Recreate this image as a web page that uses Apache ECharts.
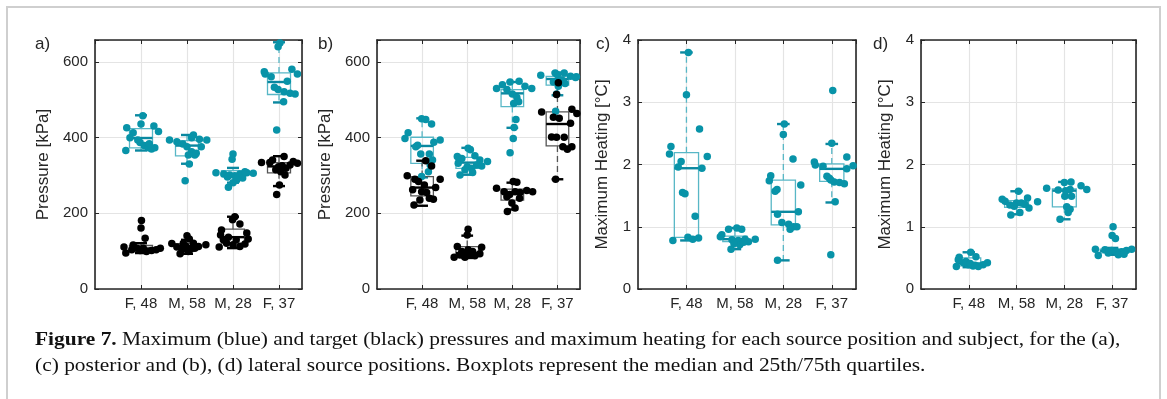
<!DOCTYPE html>
<html><head><meta charset="utf-8">
<script src="https://cdn.jsdelivr.net/npm/echarts@6/dist/echarts.min.js"></script>
<style>html,body{margin:0;padding:0;background:#fff}#c{width:1167px;height:399px}</style>
</head><body><div id="c"></div>
<script>
// ---------- DATA ----------
const categories = ['F, 48', 'M, 58', 'M, 28', 'F, 37'];
const pressureTicks = [0, 200, 400, 600];
const heatingTicks = [0, 1, 2, 3, 4];

// Panel a (posterior) - maximum pressure (blue)
const aMaxVals = [
  [458,436,426,431,413,416,366,394,387,379,373,370,373,384,400],
  [394,383,407,396,394,376,376,363,354,354,330,286,389,400,359],
  [357,343,307,304,301,304,307,306,293,288,281,269,299,310,296],
  [650,640,574,568,561,581,568,549,533,527,521,517,515,495,420]
];
const aMaxJitter = [
  [0.04,0,-0.31,0.28,-0.17,0.38,-0.33,-0.07,-0.02,0.07,0.16,0.23,0.3,0.18,-0.24],
  [-0.38,-0.09,0.14,0.27,0.43,0.31,0,0.1,0.17,0.03,0.05,-0.04,-0.22,0.1,0.2],
  [0,-0.02,-0.37,-0.2,-0.07,0.15,0.3,0.44,0.21,0.08,0,-0.1,0.04,0.26,-0.12],
  [0.02,-0.02,-0.32,-0.3,-0.17,0.28,0.4,0.18,-0.1,-0.02,0.11,0.24,0.35,0.1,-0.05]
];
const aMaxBox = [[366,373,399,424,459],[331,352,379,392,407],[281,297,303,313,320],[493,514,547,571,652]];
// Panel a - target pressure (black)
const aTgtVals = [
  [181,161,134,111,95,104,108,102,99,102,104,108,108,116],
  [120,111,104,93,141,132,112,105,108,112,117,121,121,99],
  [191,183,172,156,143,137,148,132,130,121,117,112,119,111,130],
  [334,341,350,337,332,323,319,328,315,310,301,275,250,334,326]
];
const aTgtJitter = [
  [0.01,0,0.09,-0.37,-0.33,-0.2,-0.09,-0.02,0.12,0.23,0.33,0.42,0.05,-0.17],
  [-0.33,-0.22,-0.11,-0.15,0,0.05,-0.02,0.08,0.17,0.25,0.41,0.14,-0.08,0.03],
  [0.04,-0.01,0.15,-0.25,-0.27,-0.1,0.3,0.33,-0.21,-0.14,0,0.15,0.26,-0.3,0.07],
  [-0.38,-0.14,0.11,0.31,0.4,-0.01,0.15,0.24,-0.07,0.04,0.13,0.01,-0.05,-0.2,0.07]
];
const aTgtBox = [[95,101,107,115,121],[93,107,113,120,130],[108,121,137,158,191],[272,307,324,334,351]];

// Panel b (lateral) - maximum pressure (blue)
const bMaxVals = [
  [450,448,436,413,398,380,376,394,357,357,341,328,310,297,388],
  [372,368,350,352,341,332,323,328,325,319,301,337,315,345,308],
  [530,547,549,536,530,527,515,506,495,490,448,427,398,360,540],
  [565,571,571,562,561,552,547,536,515,470,559,543,566]
];
const bMaxJitter = [
  [-0.01,0.08,0.21,-0.31,-0.38,-0.1,-0.14,0.4,-0.03,0.16,0.23,0.18,0.14,-0.01,0.26],
  [0.02,0.07,-0.22,0.17,0.28,-0.2,0,0.21,0.32,0.1,-0.16,0.45,-0.05,-0.12,0.12],
  [-0.35,-0.05,0.15,0.28,0.43,-0.12,0,0.1,0.14,0.03,0.08,0.04,0.02,-0.05,-0.22],
  [-0.37,-0.05,0.15,0.29,0.42,0.1,-0.09,0.02,-0.02,-0.04,0.4,0.17,0]
];
const bMaxBox = [[295,332,378,401,451],[302,319,334,348,373],[426,482,517,527,547],[512,539,555,562,572]];
// Panel b - target pressure (black)
const bTgtVals = [
  [339,325,299,290,284,290,268,262,257,255,240,237,235,222,275],
  [158,143,112,110,84,99,93,90,88,93,104,99,90,84],
  [284,282,266,257,257,255,260,257,244,240,214,205,227,250],
  [545,514,468,451,475,464,454,438,402,401,401,376,369,376,290]
];
const bTgtJitter = [
  [0.08,0.21,-0.33,-0.16,-0.08,0.4,0.3,-0.21,-0.01,0.1,0.16,0.25,-0.05,-0.18,0.05],
  [0.02,0,-0.22,0.32,-0.29,-0.12,-0.03,0.09,0.17,0.28,0.02,0.12,-0.16,-0.05],
  [0.02,0.1,-0.35,-0.18,0.06,0.17,0.32,0.45,-0.12,0.16,0.06,-0.11,-0.01,-0.06],
  [0.02,-0.02,-0.35,0.04,0.32,0.43,-0.09,0.29,-0.13,-0.02,0.15,0.12,0.22,0.32,-0.04]
];
const bTgtBox = [[220,246,268,297,339],[82,86,95,112,141],[210,235,255,264,281],[290,378,436,468,545]];

// Panel c (posterior) - maximum heating
const cVals = [
  [3.80,3.12,2.57,2.29,2.17,2.13,2.05,1.96,1.94,1.55,1.53,1.17,0.78,0.83,0.80,0.82],
  [0.87,0.84,0.96,0.98,0.96,0.79,0.78,0.80,0.76,0.80,0.64,0.71,0.75,0.73],
  [2.65,2.48,2.09,1.82,1.74,1.67,1.60,1.57,1.24,1.20,1.07,1.04,1.00,1.00,0.96,0.46],
  [3.19,2.34,2.04,1.99,1.97,2.12,1.93,1.98,1.81,1.75,1.72,1.71,1.69,1.40,0.55,1.78]
];
const cJitter = [
  [0.04,0,0.27,-0.32,-0.35,0.43,-0.11,-0.17,0.32,-0.08,-0.03,0.18,-0.28,0.03,0.13,0.25],
  [-0.27,-0.3,-0.13,0.04,0.14,-0.06,0.07,0.21,0.28,0.42,-0.08,0.1,0.18,-0.02],
  [0.02,0,0.2,-0.26,-0.29,0.36,-0.13,-0.17,0.31,-0.12,-0.03,0.11,0.21,0.28,0.14,-0.12],
  [0.02,0,-0.36,-0.34,-0.18,0.31,0.31,0.44,-0.1,-0.02,0.05,0.16,0.26,0.07,-0.02,-0.05]
];
const cBox = [[0.78,0.83,1.94,2.19,3.80],[0.64,0.76,0.80,0.85,0.98],[0.46,1.03,1.24,1.75,2.65],[1.39,1.73,1.93,2.01,2.33]];

// Panel d (lateral) - maximum heating
const dVals = [
  [0.59,0.51,0.52,0.36,0.42,0.39,0.37,0.36,0.39,0.42,0.44,0.47,0.41,0.38],
  [1.57,1.44,1.41,1.46,1.40,1.35,1.38,1.38,1.30,1.23,1.19,1.33,1.36],
  [1.62,1.71,1.72,1.66,1.60,1.59,1.60,1.49,1.49,1.32,1.28,1.23,1.12,1.58],
  [1.00,0.86,0.81,0.64,0.54,0.63,0.62,0.60,0.60,0.62,0.64,0.55,0.56,0.58]
];
const dJitter = [
  [0.04,-0.2,0.15,-0.26,-0.11,-0.01,0.09,0.2,0.3,0.39,-0.06,-0.22,0.03,0.13],
  [0.04,-0.3,-0.24,0.23,0.44,-0.14,0,0.1,0.26,0.07,-0.12,-0.05,0.17],
  [-0.37,0,0.14,0.35,0.47,-0.13,0.12,0.01,0.15,0.05,0.12,0.08,-0.09,0.03],
  [0.02,0,0.07,-0.35,-0.29,-0.15,-0.01,0.09,0.2,0.3,0.41,0.13,0.25,-0.08]
];
const dBox = [[0.35,0.37,0.41,0.50,0.59],[1.20,1.31,1.37,1.42,1.57],[1.12,1.32,1.58,1.61,1.72],[0.55,0.58,0.61,0.64,0.66]];

// ---------- STYLE ----------
const TEAL = '#0893a8', TEAL_LIGHT = '#58b7c6', TEAL_DARK = '#0a88a0';
const BLACK = '#000000', GREY_BOX = '#555555';
const AXIS_COL = '#262626', GRID_COL = '#e4e4e4';
const SANS = '"Liberation Sans", Arial, sans-serif';
const SERIF = '"Liberation Serif", "Times New Roman", serif';

const grids = [
  {left: 95,  top: 40, width: 207, height: 249},
  {left: 377, top: 40, width: 203, height: 249},
  {left: 638, top: 40, width: 218, height: 249},
  {left: 921, top: 40, width: 215, height: 249}
];
const yMax = [658, 658, 4, 4];
const yInt = [200, 200, 1, 1];
const yTickSets = [pressureTicks, pressureTicks, heatingTicks, heatingTicks];
const yNames = ['Pressure [kPa]', 'Pressure [kPa]', 'Maximum Heating [°C]', 'Maximum Heating [°C]'];
const yNameGaps = [43, 43, 27, 27];

const xAxes = [], yAxes = [];
grids.forEach((g, i) => {
  xAxes.push({
    gridIndex: i, type: 'value', min: 0, max: 4.5, interval: 1, position: 'bottom',
    axisLine: {show: true, onZero: false, lineStyle: {color: AXIS_COL, width: 1.6}},
    axisTick: {show: true, inside: true, length: 4, lineStyle: {color: AXIS_COL, width: 1}},
    axisLabel: {
      color: AXIS_COL, fontSize: 15, fontFamily: SANS, margin: 7,
      showMinLabel: false, showMaxLabel: false,
      formatter: v => (Number.isInteger(v) && v >= 1 && v <= 4) ? categories[v - 1] : ''
    },
    splitLine: {show: true, lineStyle: {color: GRID_COL, width: 1.2}}
  });
  xAxes.push({
    gridIndex: i, type: 'value', min: 0, max: 4.5, interval: 1, position: 'top',
    axisLine: {show: true, onZero: false, lineStyle: {color: AXIS_COL, width: 1.6}},
    axisTick: {show: true, inside: true, length: 4, lineStyle: {color: AXIS_COL, width: 1}},
    axisLabel: {show: false}, splitLine: {show: false}
  });
  const ticks = yTickSets[i];
  yAxes.push({
    gridIndex: i, type: 'value', min: 0, max: yMax[i], interval: yInt[i], position: 'left',
    name: yNames[i], nameLocation: 'middle', nameGap: yNameGaps[i],
    nameTextStyle: {color: AXIS_COL, fontSize: 17, fontFamily: SANS},
    axisLine: {show: true, onZero: false, lineStyle: {color: AXIS_COL, width: 1.6}},
    axisTick: {show: true, inside: true, length: 4, lineStyle: {color: AXIS_COL, width: 1}},
    axisLabel: {
      color: AXIS_COL, fontSize: 15, fontFamily: SANS, margin: 7,
      formatter: v => ticks.indexOf(v) >= 0 ? String(v) : ''
    },
    splitLine: {show: true, lineStyle: {color: GRID_COL, width: 1.2}}
  });
  yAxes.push({
    gridIndex: i, type: 'value', min: 0, max: yMax[i], interval: yInt[i], position: 'right',
    axisLine: {show: true, onZero: false, lineStyle: {color: AXIS_COL, width: 1.6}},
    axisTick: {show: true, inside: true, length: 4, lineStyle: {color: AXIS_COL, width: 1}},
    axisLabel: {show: false}, splitLine: {show: false}
  });
});

function boxSeries(panel, boxes, edgeCol, medCol, whiskerDash) {
  const data = boxes.map((b, k) => [k + 1].concat(b));
  return {
    type: 'custom', xAxisIndex: panel * 2, yAxisIndex: panel * 2,
    encode: {x: 0, y: [1, 2, 3, 4, 5]}, z: 2, silent: true,
    data: data,
    renderItem: function (params, api) {
      const x = api.value(0);
      const lw = api.value(1), q1 = api.value(2), md = api.value(3), q3 = api.value(4), uw = api.value(5);
      const pTL = api.coord([x - 0.25, q3]), pBR = api.coord([x + 0.25, q1]);
      const pMedL = api.coord([x - 0.25, md]), pMedR = api.coord([x + 0.25, md]);
      const pc = api.coord([x, 0]);
      const yUw = api.coord([x, uw])[1], yLw = api.coord([x, lw])[1];
      const capL = api.coord([x - 0.13, uw])[0], capR = api.coord([x + 0.13, uw])[0];
      const line = (x1, y1, x2, y2, col, w, dash) => ({
        type: 'line', shape: {x1, y1, x2, y2},
        style: {stroke: col, lineWidth: w, lineDash: dash || null, fill: null}
      });
      return {
        type: 'group', children: [
          line(pc[0], pTL[1], pc[0], yUw, edgeCol, 1.3, whiskerDash),
          line(pc[0], pBR[1], pc[0], yLw, edgeCol, 1.3, whiskerDash),
          {type: 'rect', shape: {x: pTL[0], y: pTL[1], width: pBR[0] - pTL[0], height: pBR[1] - pTL[1]},
           style: {stroke: edgeCol, lineWidth: 1.3, fill: 'rgba(0,0,0,0)'}},
          line(pMedL[0], pMedL[1], pMedR[0], pMedR[1], medCol, 2.4),
          line(capL, yUw, capR, yUw, medCol, 2.4),
          line(capL, yLw, capR, yLw, medCol, 2.4)
        ]
      };
    }
  };
}

function dotSeries(panel, vals, jit, col) {
  const data = [];
  vals.forEach((arr, k) => arr.forEach((v, j) => data.push([k + 1 + jit[k][j], v])));
  return {
    type: 'scatter', xAxisIndex: panel * 2, yAxisIndex: panel * 2,
    symbol: 'circle', symbolSize: 7.5, z: 3, silent: true,
    itemStyle: {color: col, opacity: 1}, data: data
  };
}

const DASH = [6, 4];
const series = [
  boxSeries(0, aMaxBox, TEAL_LIGHT, TEAL_DARK, DASH),
  boxSeries(0, aTgtBox, GREY_BOX, BLACK, DASH),
  dotSeries(0, aMaxVals, aMaxJitter, TEAL),
  dotSeries(0, aTgtVals, aTgtJitter, BLACK),
  boxSeries(1, bMaxBox, TEAL_LIGHT, TEAL_DARK, DASH),
  boxSeries(1, bTgtBox, GREY_BOX, BLACK, DASH),
  dotSeries(1, bMaxVals, bMaxJitter, TEAL),
  dotSeries(1, bTgtVals, bTgtJitter, BLACK),
  boxSeries(2, cBox, TEAL_LIGHT, TEAL_DARK, DASH),
  dotSeries(2, cVals, cJitter, TEAL),
  boxSeries(3, dBox, TEAL_LIGHT, TEAL_DARK, DASH),
  dotSeries(3, dVals, dJitter, TEAL)
];

const panelLabels = [['a)', 35], ['b)', 318], ['c)', 596], ['d)', 873]];
const graphic = [
  {type: 'rect', shape: {x: 7, y: 7, width: 1153, height: 420}, silent: true,
   style: {stroke: '#cfcfcf', lineWidth: 2, fill: null}, z: -10}
];
panelLabels.forEach(p => graphic.push({
  type: 'text', x: p[1], y: 44, silent: true,
  style: {text: p[0], fontSize: 17, fontFamily: SANS, fill: AXIS_COL, verticalAlign: 'middle'}
}));
graphic.push({
  type: 'text', x: 35, y: 340, scaleX: 1.19, scaleY: 1, silent: true,
  style: {
    text: '{b|Figure 7.} Maximum (blue) and target (black) pressures and maximum heating for each source position and subject, for the (a),',
    fontSize: 18, fontFamily: SERIF, fill: '#111', verticalAlign: 'middle',
    rich: {b: {fontWeight: 'bold', fontSize: 18, fontFamily: SERIF, fill: '#111'}}
  }
});
graphic.push({
  type: 'text', x: 35, y: 366, scaleX: 1.19, scaleY: 1, silent: true,
  style: {
    text: '(c) posterior and (b), (d) lateral source positions. Boxplots represent the median and 25th/75th quartiles.',
    fontSize: 18, fontFamily: SERIF, fill: '#111', verticalAlign: 'middle'
  }
});

const chart = echarts.init(document.getElementById('c'), null, {renderer: 'canvas'});
chart.setOption({
  backgroundColor: '#ffffff',
  animation: false,
  grid: grids.map(g => Object.assign({containLabel: false}, g)),
  xAxis: xAxes, yAxis: yAxes, series: series, graphic: graphic
});
</script></body></html>
